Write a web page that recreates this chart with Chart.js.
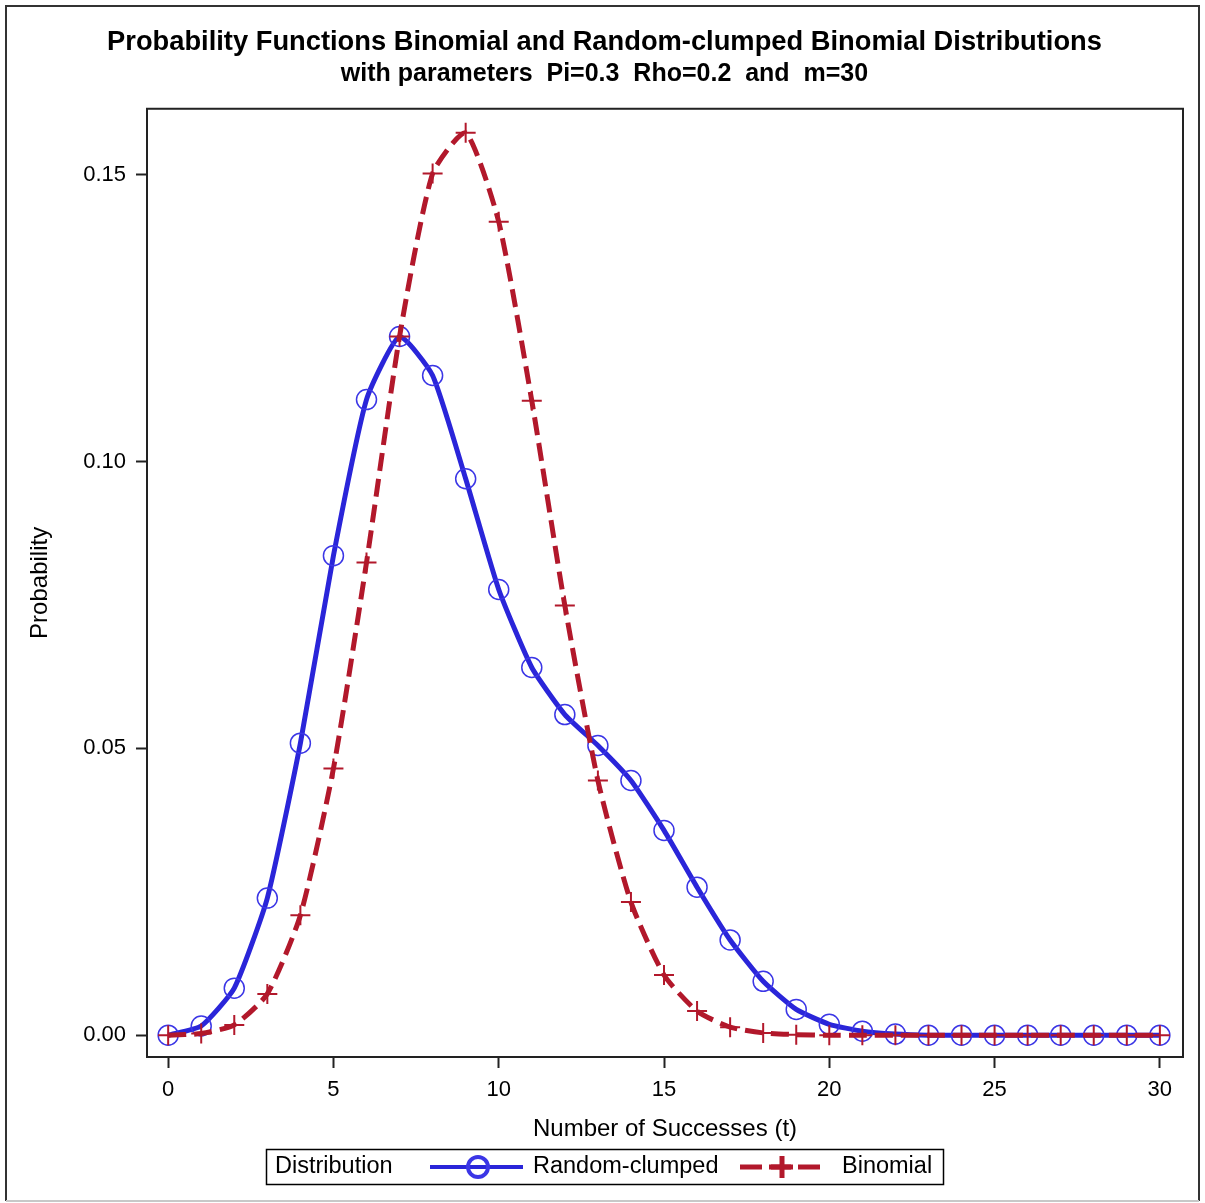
<!DOCTYPE html>
<html>
<head>
<meta charset="utf-8">
<title>Probability Functions Binomial and Random-clumped Binomial Distributions</title>
<script src="https://cdn.jsdelivr.net/npm/chart.js@4.4.1/dist/chart.umd.min.js"></script>
<style>
  html, body { margin: 0; padding: 0; background: #fff; }
</style>
</head>
<body>
<canvas id="probChart" width="1205" height="1203"></canvas>
<script>
/* Binomial vs random-clumped binomial probability functions (m=30) */

const FONT = '"Liberation Sans", Arial, Helvetica, sans-serif';
const TEXT_COLOR = '#000';

// ── Data ──────────────────────────────────────────────────────────
const successes = [0, 1, 2, 3, 4, 5, 6, 7, 8, 9, 10, 11, 12, 13, 14, 15,
                   16, 17, 18, 19, 20, 21, 22, 23, 24, 25, 26, 27, 28, 29, 30];

const clumpedProb = [0.0000, 0.0016, 0.0082, 0.0239, 0.0509, 0.0836, 0.1108, 0.1218,
                     0.1150, 0.0970, 0.0777, 0.0641, 0.0559, 0.0505, 0.0444, 0.0357,
                     0.0258, 0.0166, 0.0094, 0.0045, 0.0019, 0.0007, 0.0002, 0.0000,
                     0.0000, 0.0000, 0.0000, 0.0000, 0.0000, 0.0000, 0.0000];

const binomialProb = [0.0000, 0.0003, 0.0018, 0.0072, 0.0209, 0.0465, 0.0824, 0.1218,
                      0.1502, 0.1573, 0.1418, 0.1106, 0.0749, 0.0444, 0.0232, 0.0105,
                      0.0042, 0.0014, 0.0004, 0.0001, 0.0000, 0.0000, 0.0000, 0.0000,
                      0.0000, 0.0000, 0.0000, 0.0000, 0.0000, 0.0000, 0.0000];

const xTickValues = [0, 5, 10, 15, 20, 25, 30];
const yTickValues = [0.00, 0.05, 0.10, 0.15];

const seriesNames = ['Random-clumped', 'Binomial'];
const legendTitle = 'Distribution';

const TITLE = 'Probability Functions Binomial and Random-clumped Binomial Distributions';
const SUBTITLE = 'with parameters  Pi=0.3  Rho=0.2  and  m=30';

const toPoints = (ys) => successes.map((t, i) => ({ x: t, y: ys[i] }));

// ── Plugins: frames + SAS style legend ────────────────────────────
const framePlugin = {
    id: 'frames',
    beforeDraw(chart) {
        const ctx = chart.ctx;
        ctx.save();
        ctx.fillStyle = '#fff';
        ctx.fillRect(0, 0, chart.width, chart.height);
        ctx.lineWidth = 2;
        ctx.strokeStyle = '#333';
        ctx.beginPath();
        ctx.moveTo(6, 1201);
        ctx.lineTo(6, 6);
        ctx.lineTo(1199, 6);
        ctx.lineTo(1199, 1201);
        ctx.stroke();
        ctx.strokeStyle = '#c8c8c8';
        ctx.beginPath();
        ctx.moveTo(6, 1201);
        ctx.lineTo(1199, 1201);
        ctx.stroke();
        ctx.restore();
    },
    afterDraw(chart) {
        const { ctx, chartArea: a } = chart;
        ctx.save();
        ctx.lineWidth = 2;
        ctx.strokeStyle = '#222';
        ctx.strokeRect(a.left, a.top, a.right - a.left, a.bottom - a.top);
        ctx.restore();
        drawLegend(chart);
    }
};

function drawLegend(chart) {
    const ctx = chart.ctx;
    const [clumped, binom] = chart.data.datasets;
    const cy = 1167;
    ctx.save();
    ctx.lineWidth = 1.5;
    ctx.strokeStyle = '#000';
    ctx.strokeRect(266.5, 1149.5, 677, 35);

    ctx.font = '23.5px ' + FONT;
    ctx.fillStyle = TEXT_COLOR;
    ctx.textBaseline = 'middle';
    ctx.fillText(legendTitle, 275, cy);
    ctx.fillText(clumped.label, 533, cy);
    ctx.fillText(binom.label, 842, cy);

    // solid blue sample with circle
    ctx.strokeStyle = clumped.borderColor;
    ctx.lineWidth = 4;
    ctx.beginPath();
    ctx.moveTo(430, cy);
    ctx.lineTo(523, cy);
    ctx.stroke();
    ctx.strokeStyle = clumped.pointBorderColor;
    ctx.fillStyle = 'rgba(0,0,0,0)';
    Chart.helpers.drawPoint(ctx, { pointStyle: 'circle', radius: 10, borderWidth: 1.5, rotation: 0 }, 478, cy);

    // dashed red sample with plus
    ctx.strokeStyle = binom.borderColor;
    ctx.lineWidth = 5;
    ctx.setLineDash([22, 7]);
    ctx.beginPath();
    ctx.moveTo(740, cy);
    ctx.lineTo(822, cy);
    ctx.stroke();
    ctx.setLineDash([]);
    ctx.strokeStyle = binom.pointBorderColor;
    Chart.helpers.drawPoint(ctx, { pointStyle: 'cross', radius: 11, borderWidth: 2, rotation: 0 }, 782, cy);
    ctx.restore();
}

// ── Chart ─────────────────────────────────────────────────────────
const axisGrid = {
    display: true,
    drawOnChartArea: false,
    drawTicks: true,
    tickLength: 11,
    tickWidth: 2,
    tickColor: '#222'
};

new Chart(document.getElementById('probChart'), {
    type: 'line',
    data: {
        datasets: [
            {
                label: seriesNames[0],
                data: toPoints(clumpedProb),
                borderColor: '#2A25D9',
                borderWidth: 5,
                tension: 0.17,
                pointStyle: 'circle',
                pointRadius: 10,
                pointBorderWidth: 1.5,
                pointBorderColor: '#3b36e6',
                pointBackgroundColor: 'rgba(0,0,0,0)',
                order: 2
            },
            {
                label: seriesNames[1],
                data: toPoints(binomialProb),
                borderColor: '#B2182B',
                borderWidth: 5,
                borderDash: [18, 8],
                tension: 0.2,
                pointStyle: 'cross',
                pointRadius: 10,
                pointBorderWidth: 2,
                pointBorderColor: '#B2182B',
                pointBackgroundColor: 'rgba(0,0,0,0)',
                order: 1
            }
        ]
    },
    options: {
        responsive: false,
        animation: false,
        events: [],
        layout: { padding: { left: 26, right: 22, top: 0, bottom: 59 } },
        plugins: {
            legend: { display: false },
            tooltip: { enabled: false },
            title: {
                display: true, text: TITLE, color: TEXT_COLOR,
                font: { family: FONT, size: 27.3, weight: 'bold' },
                padding: { top: 26, bottom: 0 }
            },
            subtitle: {
                display: true, text: SUBTITLE, color: TEXT_COLOR,
                font: { family: FONT, size: 25, weight: 'bold' },
                padding: { top: 0, bottom: 20 }
            }
        },
        scales: {
            x: {
                type: 'linear',
                min: -0.64,
                max: 30.7,
                afterBuildTicks: (s) => { s.ticks = xTickValues.map(v => ({ value: v })); },
                afterFit: (s) => { s.height = 87; },
                grid: axisGrid,
                border: { display: false },
                ticks: {
                    padding: 9, color: TEXT_COLOR, maxRotation: 0, autoSkip: false,
                    font: { family: FONT, size: 22 }
                },
                title: {
                    display: true, text: 'Number of Successes (t)', color: TEXT_COLOR,
                    font: { family: FONT, size: 24 }, padding: 0
                }
            },
            y: {
                type: 'linear',
                min: -0.0038,
                max: 0.1615,
                afterBuildTicks: (s) => { s.ticks = yTickValues.map(v => ({ value: v })); },
                afterFit: (s) => { s.width = 121; },
                grid: axisGrid,
                border: { display: false },
                ticks: {
                    padding: 10, color: TEXT_COLOR, autoSkip: false,
                    font: { family: FONT, size: 22 },
                    callback: (v) => Number(v).toFixed(2)
                },
                title: {
                    display: true, text: 'Probability', color: TEXT_COLOR,
                    font: { family: FONT, size: 24 }, padding: 0
                }
            }
        }
    },
    plugins: [framePlugin]
});
</script>
</body>
</html>
